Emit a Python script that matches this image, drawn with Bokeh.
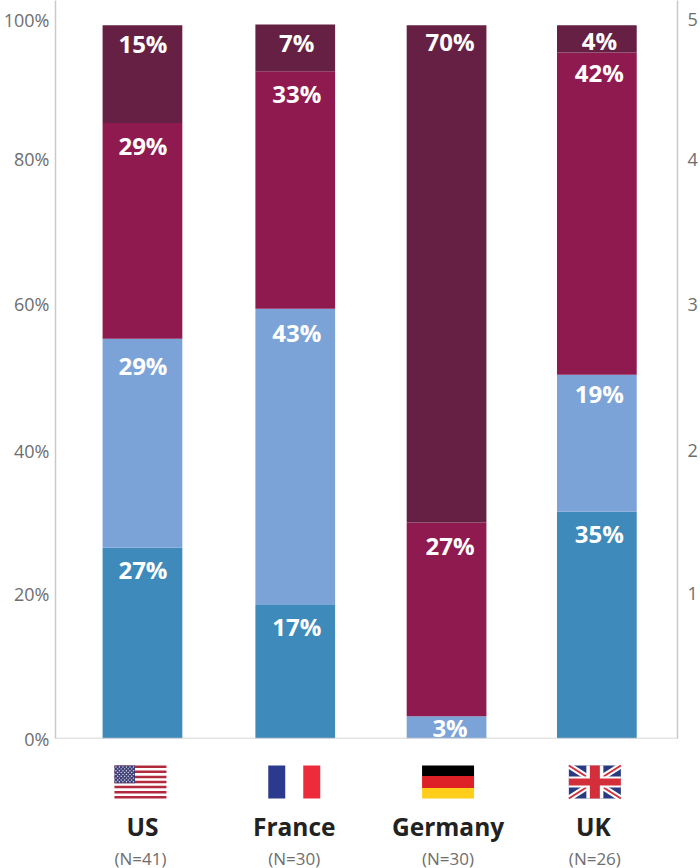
from bokeh.plotting import figure
from bokeh.layouts import column
from bokeh.models import LinearAxis, FixedTicker, Range1d, Span, ColumnDataSource
from bokeh.core.properties import value
from bokeh.embed import file_html
from bokeh.resources import INLINE

FONT = "Open Sans"

countries = ["US", "France", "Germany", "UK"]
sample_sizes = ["(N=41)", "(N=30)", "(N=30)", "(N=26)"]
series_names = ["seg1", "seg2", "seg3", "seg4"]
# drawn heights, on the 0-100 axis
seg1 = [26.6, 18.6, 0.0, 31.6]
seg2 = [29.1, 41.3, 3.1, 19.1]
seg3 = [30.1, 33.1, 27.0, 44.9]
seg4 = [13.6, 6.5, 69.3, 3.8]
# printed labels
lab1 = ["27%", "17%", "", "35%"]
lab2 = ["29%", "43%", "3%", "19%"]
lab3 = ["29%", "33%", "27%", "42%"]
lab4 = ["15%", "7%", "70%", "4%"]
left_ticks = [0, 20.2, 40.1, 60.5, 80.7, 100.2]
left_labels = ["0%", "20%", "40%", "60%", "80%", "100%"]
right_ticks = [20.2, 40.1, 60.5, 80.7, 100.2]
right_labels = ["1", "2", "3", "4", "5"]

# styling: pixel nudges
colors = ["#3e8aba", "#7ca3d8", "#8f1a50", "#662044"]
label_drop = [[22, 21, 0, 22], [26.5, 23.5, 11.5, 18.5], [23, 22.5, 23, 20], [18, 18, 16, 15.5]]
bar_nudge = [-0.5, 1, 1, 0]
label_nudge = [0, 2.5, 4.5, 2.5]
name_nudge = [-0.5, 0, 2.5, -3.4]
n_nudge = [-2.5, 0, 2.5, -2]
flag_nudge = [-2.5, 0, 2.5, -2]
PX = 1 / 151.3
idx = list(range(4))

p = figure(width=700, height=760, output_backend="svg", toolbar_location=None,
           x_range=Range1d(-0.578, 3.533), y_range=Range1d(0, 102.86),
           x_axis_location=None, y_axis_location=None,
           min_border_left=55, min_border_right=23, min_border_top=0, min_border_bottom=22,
           outline_line_color=None)
p.grid.visible = False

def style(ax, ticks, labels, standoff):
    ax.ticker = FixedTicker(ticks=ticks)
    ax.major_label_overrides = {t: l for t, l in zip(ticks, labels)}
    ax.major_tick_line_color = None
    ax.minor_tick_line_color = None
    ax.major_tick_out = 0
    ax.major_tick_in = 0
    ax.minor_tick_out = 0
    ax.minor_tick_in = 0
    ax.axis_line_color = "#c9c9c9"
    ax.axis_line_width = 1.5
    ax.major_label_text_font = FONT
    ax.major_label_text_font_size = "18px"
    ax.major_label_text_color = "#6e6e6e"
    ax.major_label_standoff = standoff

la = LinearAxis(); style(la, left_ticks, left_labels, 6); p.add_layout(la, "left")
ra = LinearAxis(); style(ra, right_ticks, right_labels, 10); p.add_layout(ra, "right")
p.add_layout(Span(location=0, dimension="width", line_color="#c9c9c9", line_width=1.5))

segs = [seg1, seg2, seg3, seg4]
labs = [lab1, lab2, lab3, lab4]
src = ColumnDataSource(dict(x=[i + n * PX for i, n in zip(idx, bar_nudge)],
                            **{n: s for n, s in zip(series_names, segs)}))
p.vbar_stack(series_names, x="x", width=0.527, source=src, color=colors, line_color=None)

tops = [0.0] * 4
for s, l, drop in zip(segs, labs, label_drop):
    tops = [t + v for t, v in zip(tops, s)]
    keep = [i for i in idx if l[i]]
    p.text(x=[i + label_nudge[i] * PX for i in keep], y=[tops[i] for i in keep],
           text=[l[i] for i in keep], y_offset=[drop[i] for i in keep],
           text_color="white", text_align="center", text_baseline="middle",
           text_font=value(FONT), text_font_style="bold", text_font_size="24px")

q = figure(width=700, height=108, output_backend="svg", toolbar_location=None,
           x_range=p.x_range, y_range=Range1d(868, 760),
           x_axis_location=None, y_axis_location=None,
           min_border_left=55, min_border_right=23, min_border_top=0, min_border_bottom=0,
           outline_line_color=None)
q.grid.visible = False

q.text(x=[i + o * PX for i, o in zip(idx, name_nudge)], y=[826] * 4, text=countries,
       text_color="#222222", text_align="center", text_baseline="middle",
       text_font=value(FONT), text_font_style="bold", text_font_size="24.5px")
q.text(x=[i + o * PX for i, o in zip(idx, n_nudge)], y=[857.5] * 4, text=sample_sizes,
       text_color="#6e6e6e", text_align="center", text_baseline="middle",
       text_font=value(FONT), text_font_size="17px")

FT, FB = 765.0, 798.0
FH = 33.0

def box(cx, x0, x1, y0, y1, color):
    q.quad(left=cx + x0 * PX, right=cx + x1 * PX, top=y0, bottom=y1, color=color, line_color=None)

# US
cx = 0 + flag_nudge[0] * PX
box(cx, -26, 26, FT, FB, "#ffffff")
sh = FH / 13
for k in range(0, 13, 2):
    box(cx, -26, 26, FT + k * sh, FT + (k + 1) * sh, "#b22a3e")
box(cx, -26, -5.5, FT, FT + 7 * sh, "#3f3f78")
dx, dy = [], []
for r in range(9):
    n = 6 if r % 2 == 0 else 5
    for c in range(n):
        dx.append(cx + (-24.5 + c * 3.5 + (0 if r % 2 == 0 else 1.75)) * PX)
        dy.append(FT + 1.5 + r * 1.85)
q.scatter(dx, dy, size=1.4, color="#e8e8f0", line_color=None)

# France
cx = 1 + flag_nudge[1] * PX
box(cx, -26, -9, FT, FB, "#2b3a8d")
box(cx, 9, 26, FT, FB, "#ed2b3a")

# Germany
cx = 2 + flag_nudge[2] * PX
box(cx, -26, 26, FT, FT + 10.5, "#000000")
box(cx, -26, 26, FT + 10.5, FT + 22.5, "#de2126")
box(cx, -26, 26, FT + 22.5, FB, "#ffce1b")

# UK
cx = 3 + flag_nudge[3] * PX
box(cx, -26, 26, FT, FB, "#2a3a80")
q.segment(x0=[cx - 26 * PX, cx - 26 * PX], y0=[FT, FB], x1=[cx + 26 * PX, cx + 26 * PX], y1=[FB, FT],
          line_color="#ffffff", line_width=6)
q.segment(x0=[cx - 26 * PX, cx - 26 * PX], y0=[FT, FB], x1=[cx + 26 * PX, cx + 26 * PX], y1=[FB, FT],
          line_color="#d32f3a", line_width=2)
box(cx, -26, 26, FT + 11, FB - 11, "#ffffff")
box(cx, -8.5, 8.5, FT, FB, "#ffffff")
box(cx, -26, 26, FT + 13, FB - 13, "#d32f3a")
box(cx, -5, 5, FT, FB, "#d32f3a")

page = column(p, q, spacing=0)
open("out.html", "w").write(file_html(page, INLINE))
